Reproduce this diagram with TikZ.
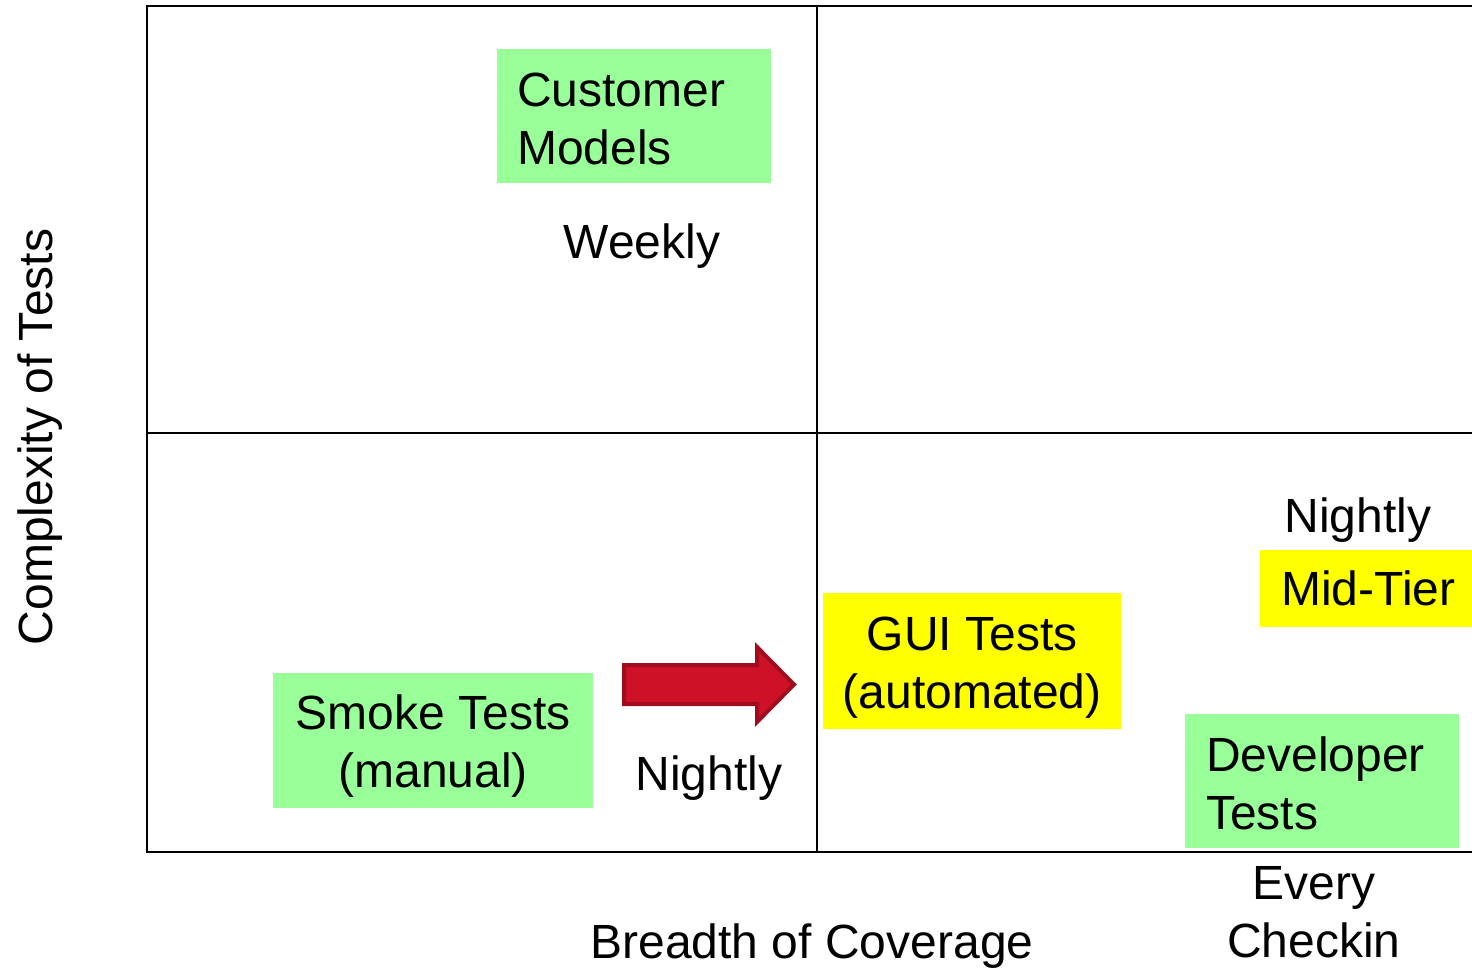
\documentclass[tikz,border=0pt]{standalone}
\usepackage{fontspec}
\setmainfont{Liberation Sans}
\usetikzlibrary{positioning}
\definecolor{boxgreen}{HTML}{99FF99}
\definecolor{boxyellow}{HTML}{FFFF00}
\definecolor{arrowred}{HTML}{CE1126}
\definecolor{arrowedge}{HTML}{A00C1E}
\newcommand\lift[1]{\rule{0pt}{#1}} % taller first line, so the text sits lower in its box
\tikzset{
  big/.style={font=\fontsize{48}{58}\selectfont},
  box/.style={big, anchor=north west, inner ysep=0pt},
  leftbox/.style={box, inner xsep=20pt, text width=#1, align=left},
  midbox/.style={box, inner xsep=4pt, minimum width=#1, align=center},
  lbl/.style={big, align=center}
}

\begin{document}
\begin{tikzpicture}[x=1pt,y=-1pt]
  \useasboundingbox (0,0) rectangle (1472,967);
  \clip (0,0) rectangle (1472,967);

  % quadrant grid, open on the right
  \draw[line width=2pt] (1480,6) -- (147,6) -- (147,852) -- (1480,852);
  \draw[line width=2pt] (817,6) -- (817,852);
  \draw[line width=2pt] (147,433) -- (1480,433);

  % test boxes
  \node[leftbox=234pt, fill=boxgreen, minimum height=134pt] (customer) at (497,49) {\lift{40pt}Customer\\Models};
  \node[midbox=320pt, fill=boxgreen, minimum height=135pt] (smoke) at (273,673) {\lift{46pt}Smoke Tests\\(manual)};
  \node[midbox=298pt, fill=boxyellow, minimum height=136pt] (gui) at (823,593) {\lift{46pt}GUI Tests\\(automated)};
  \node[leftbox=200pt, fill=boxyellow, minimum height=77pt, inner xsep=21pt] (midtier) at (1260,550) {Mid-Tier};
  \node[leftbox=232pt, fill=boxgreen, minimum height=134pt, inner xsep=21pt] (developer) at (1185,714) {\lift{39pt}Developer\\Tests};

  % how often each one runs
  \node[lbl, anchor=base] (weekly) at (642,258) {Weekly};
  \node[lbl, anchor=base] (nightlyA) at (709,790) {Nightly};
  \node[lbl, anchor=base] (nightlyB) at (1358,532) {Nightly};
  \node[lbl] (checkin) at (1314,912) {Every\\Checkin};

  % axis titles
  \node[lbl, anchor=base] (breadth) at (812,958) {Breadth of Coverage};
  \node[lbl, anchor=base, rotate=90] (complexity) at (52,437) {Complexity of Tests};

  % block arrow from manual to automated
  \draw[arrowedge, fill=arrowred, line width=4pt, line join=miter]
    (624,665) -- (757,665) -- (757,647) -- (794,684.5) -- (757,722) -- (757,704) -- (624,704) -- cycle;
\end{tikzpicture}
\end{document}
